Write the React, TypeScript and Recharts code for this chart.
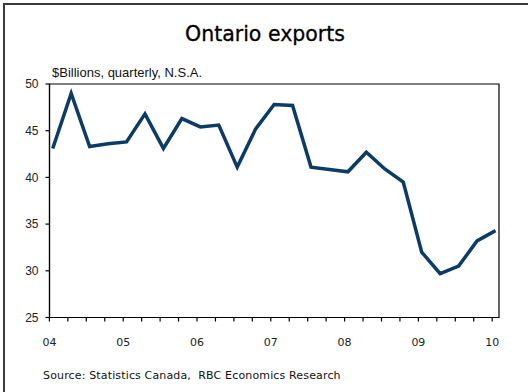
import React from "react";
import { LineChart, Line, XAxis, YAxis, ReferenceArea } from "recharts";

const QUARTERS = [
  "04Q1", "04Q2", "04Q3", "04Q4",
  "05Q1", "05Q2", "05Q3", "05Q4",
  "06Q1", "06Q2", "06Q3", "06Q4",
  "07Q1", "07Q2", "07Q3", "07Q4",
  "08Q1", "08Q2", "08Q3", "08Q4",
  "09Q1", "09Q2", "09Q3", "09Q4",
  "10Q1",
];
const EXPORTS = [
  43.1, 49.0, 43.3, 43.6,
  43.8, 46.8, 43.1, 46.3,
  45.4, 45.6, 41.1, 45.2,
  47.8, 47.7, 41.1, 40.85,
  40.6, 42.7, 40.9, 39.5,
  32.0, 29.7, 30.5, 33.2,
  34.3,
];
const YEAR_LABELS = ["04", "05", "06", "07", "08", "09", "10"];
const Y_TICKS = [25, 30, 35, 40, 45, 50];
const Y_DOMAIN: [number, number] = [25, 50];

const TITLE = "Ontario exports";
const SUBTITLE = "$Billions, quarterly, N.S.A.";
const SOURCE = "Source: Statistics Canada,  RBC Economics Research";

const TICK_SHIFT = 0.18;
const X_MIN = -0.175;
const X_MAX = 24.19;

const data = QUARTERS.map((q, i) => ({ t: i, q, v: EXPORTS[i] }));
const xTicks = QUARTERS.map((_, i) => i - TICK_SHIFT);

const fmtX = (v: number) => {
  const i = Math.round(v + TICK_SHIFT);
  return i % 4 === 0 ? YEAR_LABELS[i / 4] : "";
};

export default function App() {
  return (
    <div
      style={{
        position: "absolute",
        left: 0,
        top: 0,
        width: 528,
        height: 392,
        background: "#fff",
        overflow: "hidden",
      }}
    >
      <div
        style={{
          position: "absolute",
          left: 3,
          top: 3,
          width: 560,
          height: 420,
          border: "2px solid #3a3a3a",
        }}
      />
      <div
        style={{
          position: "absolute",
          left: 0,
          width: 530,
          top: 21,
          textAlign: "center",
          fontFamily: "'DejaVu Sans', sans-serif",
          fontSize: 20.5,
          color: "#000",
          lineHeight: "26px",
          WebkitTextStroke: "0.3px #000",
        }}
      >
        {TITLE}
      </div>
      <div
        style={{
          position: "absolute",
          left: 52,
          top: 65,
          fontFamily: "'Liberation Sans', Arial, sans-serif",
          fontSize: 13,
          color: "#111",
          lineHeight: "16px",
          whiteSpace: "nowrap",
        }}
      >
        {SUBTITLE}
      </div>
      <div
        style={{
          position: "absolute",
          left: 43,
          top: 368,
          fontFamily: "'DejaVu Sans', sans-serif",
          fontSize: 11,
          letterSpacing: 0.15,
          color: "#111",
          lineHeight: "16px",
          whiteSpace: "pre",
        }}
      >
        {SOURCE}
      </div>
      <div style={{ position: "absolute", left: 0, top: 0 }}>
        <LineChart
          width={528}
          height={392}
          data={data}
          margin={{ top: 84, right: 29, bottom: 44.5, left: 9.5 }}
        >
          <XAxis
            dataKey="t"
            type="number"
            domain={[X_MIN, X_MAX]}
            ticks={xTicks}
            interval={0}
            allowDataOverflow
            tickFormatter={fmtX}
            height={30}
            tickSize={4}
            tickMargin={17}
            axisLine={{ stroke: "#000", strokeWidth: 1.2 }}
            tickLine={{ stroke: "#000", strokeWidth: 1.2 }}
            tick={{
              fill: "#222",
              fontSize: 11,
              fontFamily: "'DejaVu Sans', sans-serif",
            }}
          />
          <YAxis
            type="number"
            domain={Y_DOMAIN}
            ticks={Y_TICKS}
            interval={0}
            width={40}
            tickSize={4}
            tickMargin={7}
            axisLine={{ stroke: "#000", strokeWidth: 1.2 }}
            tickLine={{ stroke: "#000", strokeWidth: 1.2 }}
            tick={{
              fill: "#222",
              fontSize: 12,
              fontFamily: "'Liberation Sans', Arial, sans-serif",
            }}
          />
          <ReferenceArea
            x1={X_MIN}
            x2={X_MAX}
            y1={Y_DOMAIN[0]}
            y2={Y_DOMAIN[1]}
            fill="none"
            stroke="#000"
            strokeWidth={1.2}
            fillOpacity={0}
          />
          <Line
            type="linear"
            dataKey="v"
            stroke="#0b3b66"
            strokeWidth={3.5}
            dot={false}
            activeDot={false}
            isAnimationActive={false}
          />
        </LineChart>
      </div>
    </div>
  );
}
